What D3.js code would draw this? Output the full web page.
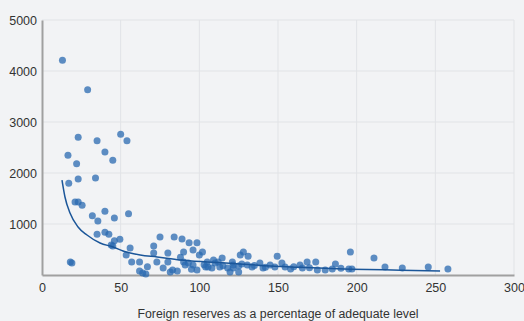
<!DOCTYPE html>
<html>
<head>
<meta charset="utf-8">
<script src="https://cdn.jsdelivr.net/npm/d3@7"></script>
<style>
  html, body { margin: 0; padding: 0; background: #f2f3f5; }
  svg { display: block; font-family: "Liberation Sans", Arial, sans-serif; }
</style>
</head>
<body>
<div id="chart"></div>
<script>
// reserves as % of adequate level
const reserves = [13, 29, 23, 35, 50, 54, 16.5, 40, 22, 45, 23, 34, 17, 21, 23, 25.5, 32, 35.5, 40, 46, 55,
  35, 40, 42.5, 46, 49.5, 44, 45, 56, 53.5, 57, 62, 18, 19, 64, 62, 66, 67, 71, 71, 73, 75, 84, 89, 93.5,
  98.5, 96, 80, 80, 83, 90, 88, 90, 93, 86, 96, 100, 102, 105, 109, 113, 114.5, 121, 121.5, 125, 98.5,
  108, 110, 104, 118, 91, 128, 126, 131, 149.5, 121.5, 127, 133.5, 138.5, 145, 148, 154.5, 158, 164,
  168.5, 174, 165.5, 175, 180, 119.5, 130.5, 140.5, 196, 186.5, 211, 218, 229, 245.5, 258, 195, 197,
  184.5, 77, 81.5, 105.5, 112, 152.5, 95, 103, 115, 125, 135, 142, 160, 170, 190];
// spread values
const spread = [4210, 3630, 2700, 2630, 2760, 2630, 2350, 2410, 2180, 2250, 1880, 1900, 1800, 1430, 1430,
  1370, 1160, 1060, 1250, 1120, 1200, 800, 840, 800, 670, 700, 590, 570, 530, 390, 255, 255, 255, 235, 40,
  80, 20, 160, 570, 430, 255, 745, 745, 705, 630, 630, 490, 430, 255, 100, 450, 350, 255, 235, 80, 195,
  390, 450, 255, 295, 155, 335, 255, 135, 60, 100, 135, 235, 155, 135, 195, 450, 390, 370, 370, 195, 215,
  155, 235, 195, 155, 155, 120, 195, 255, 255, 135, 100, 100, 60, 195, 135, 450, 215, 335, 155, 135, 155,
  120, 120, 120, 120, 135, 60, 155, 255, 235, 115, 200, 180, 175, 185, 150, 160, 140, 130];

// fitted curve
const fitX = [12.7, 14.6, 17.8, 22.9, 28.6, 36.9, 45.2, 51.5, 62.4, 73.2, 87.8, 105, 121.5, 145, 164, 196, 228, 253];
const fitY = [1862, 1529, 1215, 941, 784, 627, 550, 470, 392, 353, 294, 255, 225, 176, 150, 115, 95, 78];

const xTicks = [0, 50, 100, 150, 200, 250, 300];
const yTicks = [1000, 2000, 3000, 4000, 5000];
const xTitle = 'Foreign reserves as a percentage of adequate level';

const width = 524, height = 321;
const margin = {top: 20, right: 10, bottom: 46, left: 42};

const svg = d3.select('#chart')
  .append('svg')
    .attr('width', width)
    .attr('height', height);

const x = d3.scaleLinear().domain([0, 300]).range([margin.left, width - margin.right]);
const y = d3.scaleLinear().domain([0, 5000]).range([height - margin.bottom, margin.top]);

// grid
svg.append('g')
  .selectAll('line')
  .data(xTicks.slice(1))
  .join('line')
    .attr('x1', d => x(d)).attr('x2', d => x(d))
    .attr('y1', y(0)).attr('y2', y(5000))
    .attr('stroke', '#e1e3e6')
    .attr('stroke-width', 1);

svg.append('g')
  .selectAll('line')
  .data(yTicks)
  .join('line')
    .attr('x1', x(0)).attr('x2', x(300))
    .attr('y1', d => y(d)).attr('y2', d => y(d))
    .attr('stroke', '#e1e3e6')
    .attr('stroke-width', 1);

// axes
const xAxis = svg.append('g')
  .attr('transform', `translate(0,${y(0)})`)
  .call(d3.axisBottom(x).tickValues(xTicks).tickFormat(d3.format('d')).tickSize(0).tickPadding(8));
xAxis.select('.domain').attr('stroke', '#a0a0a0').attr('stroke-width', 2);
xAxis.selectAll('text').attr('font-size', 12.5).attr('fill', '#333').attr('font-family', null);

const yAxis = svg.append('g')
  .attr('transform', `translate(${x(0)},0)`)
  .call(d3.axisLeft(y).tickValues(yTicks).tickFormat(d3.format('d')).tickSize(0).tickPadding(5));
yAxis.select('.domain').attr('stroke', '#a0a0a0').attr('stroke-width', 2);
yAxis.selectAll('text').attr('font-size', 12.5).attr('fill', '#333').attr('font-family', null);

svg.append('text')
  .attr('x', (x(0) + x(300)) / 2)
  .attr('y', 318)
  .attr('text-anchor', 'middle')
  .attr('font-size', 12.3)
  .attr('fill', '#333')
  .text(xTitle);

// points
svg.append('g')
  .selectAll('circle')
  .data(reserves.map((d, i) => [d, spread[i]]))
  .join('circle')
    .attr('cx', d => x(d[0]))
    .attr('cy', d => y(d[1]))
    .attr('r', 3.5)
    .attr('fill', '#2a69b0')
    .attr('fill-opacity', 0.75);

// fit line
const line = d3.line()
  .x(d => x(d[0]))
  .y(d => y(d[1]))
  .curve(d3.curveMonotoneX);

svg.append('path')
  .datum(fitX.map((d, i) => [d, fitY[i]]))
  .attr('d', line)
  .attr('fill', 'none')
  .attr('stroke', '#1b5699')
  .attr('stroke-width', 1.5);
</script>
</body>
</html>
